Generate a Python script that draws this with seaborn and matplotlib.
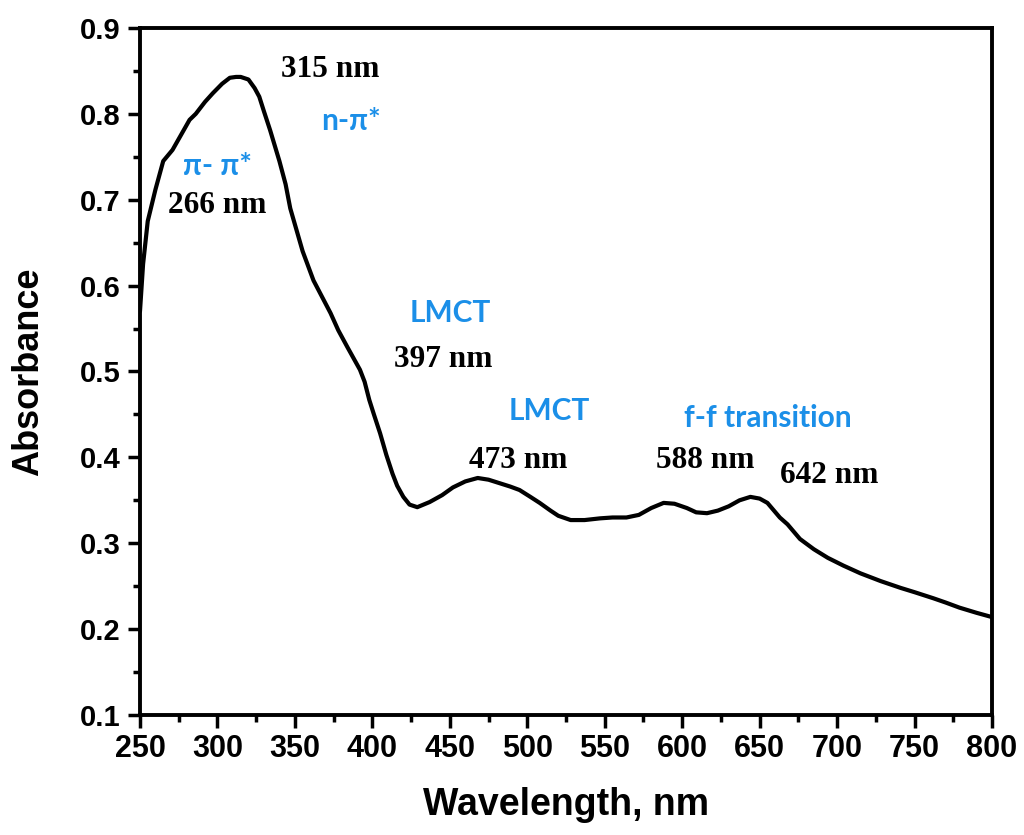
import matplotlib
matplotlib.use("Agg")
import matplotlib.pyplot as plt
from matplotlib.ticker import MultipleLocator
import numpy as np
import pandas as pd
import seaborn as sns

# UV-Vis spectrum
wavelength = [250, 252, 255, 260, 265, 271, 282, 286, 292, 297, 303, 308, 312, 315,
              320, 324, 327, 330, 334, 340, 344, 347, 351, 355, 362, 373, 378, 384,
              388, 392, 395, 398, 401, 405, 409, 413, 416, 420, 424, 429, 437, 445,
              452, 460, 468, 475, 482, 489, 495, 502, 508, 515, 520, 528, 537, 547,
              555, 564, 572, 580, 588, 595, 603, 609, 616, 623, 630, 637, 644, 650,
              655, 663, 668, 676, 685, 694, 704, 715, 728, 741, 750, 762, 770, 779,
              790, 800]
absorbance = [0.570, 0.625, 0.675, 0.712, 0.745, 0.758, 0.793, 0.800, 0.814, 0.824,
              0.835, 0.842, 0.843, 0.843, 0.840, 0.830, 0.820, 0.803, 0.781, 0.745,
              0.718, 0.690, 0.665, 0.640, 0.606, 0.568, 0.548, 0.528, 0.515, 0.502,
              0.488, 0.467, 0.450, 0.428, 0.403, 0.381, 0.367, 0.354, 0.345, 0.342,
              0.348, 0.356, 0.365, 0.372, 0.376, 0.374, 0.370, 0.366, 0.362, 0.354,
              0.347, 0.338, 0.332, 0.327, 0.327, 0.329, 0.330, 0.330, 0.333, 0.341,
              0.347, 0.346, 0.341, 0.336, 0.335, 0.338, 0.343, 0.350, 0.354, 0.352,
              0.347, 0.330, 0.322, 0.305, 0.293, 0.283, 0.274, 0.265, 0.256, 0.248,
              0.243, 0.236, 0.231, 0.225, 0.219, 0.214]

# peak labels (black, serif) and transition labels (blue)
peak_labels = ["266 nm", "315 nm", "397 nm", "473 nm", "588 nm", "642 nm"]
peak_x = [300, 373, 446, 494, 615, 695]
peak_y = [0.684, 0.843, 0.505, 0.388, 0.388, 0.370]

trans_labels = ["π- π*", "n-π*", "LMCT", "LMCT", "f-f transition"]
trans_x = [300, 386, 450, 514, 655]
trans_y = [0.729, 0.781, 0.558, 0.443, 0.435]

df = pd.DataFrame({"Wavelength": wavelength, "Absorbance": absorbance})

sns.set_style("ticks")
plt.rcParams['font.family'] = ['Liberation Sans', 'DejaVu Sans']
plt.rcParams['font.weight'] = 'bold'
plt.rcParams['text.color'] = 'black'
plt.rcParams['axes.labelcolor'] = 'black'
plt.rcParams['xtick.color'] = 'black'
plt.rcParams['ytick.color'] = 'black'

fig = plt.figure(figsize=(10.24, 8.35), dpi=100)
ax = fig.add_axes([0.1367, 0.1437, 0.8321, 0.8228])

line = sns.lineplot(data=df, x="Wavelength", y="Absorbance", color="black",
                    linewidth=3, ax=ax)
for l in ax.lines:
    l.set_solid_joinstyle('round')
    l.set_solid_capstyle('round')

ax.set_xlim(250, 800)
ax.set_ylim(0.1, 0.9)
ax.xaxis.set_major_locator(MultipleLocator(50))
ax.xaxis.set_minor_locator(MultipleLocator(25))
ax.yaxis.set_major_locator(MultipleLocator(0.1))
ax.yaxis.set_minor_locator(MultipleLocator(0.05))
ax.yaxis.set_major_formatter(plt.FuncFormatter(lambda v, p: f"{v:.1f}"))

ax.tick_params(which='major', direction='out', length=9, width=2.5, pad=5)
ax.tick_params(which='minor', direction='out', length=5, width=2.5)
ax.tick_params(axis='x', which='both', top=False, labelsize=22)
ax.tick_params(axis='y', which='both', right=False, labelsize=21)
for lab in ax.get_xticklabels() + ax.get_yticklabels():
    lab.set_fontweight('bold')

for s in ax.spines.values():
    s.set_visible(True)
    s.set_linewidth(2.8)
    s.set_color("black")

ax.set_xlabel("Wavelength, nm", fontsize=27, fontweight='bold', labelpad=16)
ax.set_ylabel("Absorbance", fontsize=26, fontweight='bold', labelpad=24)

for t, x, y in zip(peak_labels, peak_x, peak_y):
    ax.text(x, y, t, ha='center', va='baseline', fontsize=22.5, fontweight='bold',
            family=['Liberation Serif', 'DejaVu Serif'], color='black')

for t, x, y in zip(trans_labels, trans_x, trans_y):
    ax.text(x, y, t, ha='center', va='baseline', fontsize=21.5, fontweight='bold',
            family=['Lato', 'DejaVu Sans'], color='#1b8fe8')

fig.savefig("out.png", dpi=100, facecolor='white')
